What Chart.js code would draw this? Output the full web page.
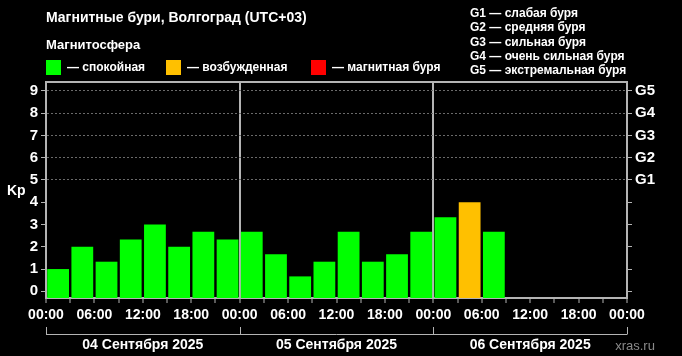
<!DOCTYPE html>
<html><head><meta charset="utf-8">
<script src="https://cdn.jsdelivr.net/npm/chart.js@4.4.1/dist/chart.umd.min.js"></script>
<style>html,body{margin:0;padding:0;background:#000;}canvas{display:block;}</style>
</head><body>
<canvas id="c" width="682" height="356"></canvas>
<script>
// ---- data ----
const dayLabels = ['04 Сентября 2025', '05 Сентября 2025', '06 Сентября 2025'];
const hourLabels = ['00:00', '06:00', '12:00', '18:00'];
const kpValues = [1, 2, 1.33, 2.33, 3, 2, 2.67, 2.33,
                  2.67, 1.67, 0.67, 1.33, 2.67, 1.33, 1.67, 2.67,
                  3.33, 4, 2.67];
const kpTicks = [0, 1, 2, 3, 4, 5, 6, 7, 8, 9];
const gLabels = ['G1', 'G2', 'G3', 'G4', 'G5'];
const gLegend = ['G1 — слабая буря', 'G2 — средняя буря', 'G3 — сильная буря', 'G4 — очень сильная буря', 'G5 — экстремальная буря'];
const stateLegend = ['— спокойная', '— возбужденная', '— магнитная буря'];
const stateColors = ['#00ff00', '#ffc000', '#ff0000'];
const title = 'Магнитные бури, Волгоград (UTC+03)';
const subtitle = 'Магнитосфера';

const FONT = '"Liberation Sans", Arial, sans-serif';
const FRAME = '#b4b4b4';
const Y_MIN = -0.3, Y_MAX = 9.4;

const points = kpValues.map((v, i) => ({x: i + 0.5, y: v}));
function colorFor(v) { return v >= 5 ? stateColors[2] : (v >= 4 ? stateColors[1] : stateColors[0]); }

const decor = {
  id: 'decor',
  afterDraw(chart) {
    const ctx = chart.ctx;
    const xs = chart.scales.x;
    const ys = chart.scales.y;
    ctx.save();
    ctx.fillStyle = '#fff';
    ctx.textBaseline = 'middle';
    ctx.textAlign = 'left';
    ctx.font = 'bold 14px ' + FONT;
    ctx.fillText(title, 46, 18);
    ctx.font = 'bold 13px ' + FONT;
    ctx.fillText(subtitle, 46, 45);
    ctx.font = 'bold 12px ' + FONT;
    const legX = [46, 166, 311];
    for (let i = 0; i < 3; i++) {
      ctx.fillStyle = stateColors[i];
      ctx.fillRect(legX[i], 60, 15, 15);
      ctx.fillStyle = '#fff';
      ctx.fillText(stateLegend[i], legX[i] + 21, 68);
    }
    for (let i = 0; i < gLegend.length; i++) {
      ctx.fillText(gLegend[i], 470, 13.5 + i * 14.4);
    }
    // Kp axis title
    ctx.font = 'bold 14px ' + FONT;
    ctx.fillText('Kp', 7, (ys.getPixelForValue(4) + ys.getPixelForValue(5)) / 2);
    // day brackets
    ctx.strokeStyle = FRAME;
    ctx.lineWidth = 1;
    const by = 334.5;
    ctx.beginPath();
    ctx.moveTo(xs.getPixelForValue(0), by);
    ctx.lineTo(xs.getPixelForValue(24), by);
    for (let d = 0; d <= 3; d++) {
      const px = Math.round(xs.getPixelForValue(d * 8)) + 0.5;
      ctx.moveTo(px, 327);
      ctx.lineTo(px, by);
    }
    ctx.stroke();
    ctx.fillStyle = '#fff';
    ctx.textAlign = 'center';
    ctx.font = 'bold 14px ' + FONT;
    for (let d = 0; d < 3; d++) {
      ctx.fillText(dayLabels[d], xs.getPixelForValue(d * 8 + 4), 345);
    }
    ctx.fillStyle = '#8a8a8a';
    ctx.font = '13px ' + FONT;
    ctx.fillText('xras.ru', 635, 346);
    ctx.restore();
  }
};

new Chart(document.getElementById('c'), {
  type: 'bar',
  data: {
    datasets: [{
      data: points,
      base: Y_MIN,
      backgroundColor: (c) => colorFor(c.raw ? c.raw.y : 0),
      borderWidth: 0,
      barPercentage: 0.9,
      categoryPercentage: 1.0,
      xAxisID: 'x',
      yAxisID: 'y'
    }]
  },
  plugins: [decor],
  options: {
    responsive: false,
    animation: false,
    devicePixelRatio: 1,
    layout: {padding: {top: 82, left: 0, right: 0, bottom: 0}},
    plugins: {legend: {display: false}, tooltip: {enabled: false}},
    scales: {
      x: {
        type: 'linear', position: 'bottom', min: 0, max: 24, offset: false,
        afterFit: (s) => { s.height = 58; },
        afterBuildTicks: (s) => { s.ticks = Array.from({length: 25}, (_, i) => ({value: i})); },
        ticks: {
          color: '#fff', font: {family: FONT, size: 14, weight: 'bold'}, padding: 4,
          maxRotation: 0, autoSkip: false,
          callback: (v) => (v % 2 === 0 ? hourLabels[(v / 2) % 4] : '')
        },
        grid: {
          offset: false,
          drawOnChartArea: true, drawTicks: true, tickLength: 5,
          color: (c) => (c.tick && c.tick.value % 8 === 0 ? FRAME : 'rgba(0,0,0,0)'),
          lineWidth: (c) => (c.tick && c.tick.value % 8 === 0 ? 2 : 0),
          tickColor: FRAME, tickWidth: 1
        },
        border: {display: true, color: FRAME, width: 2}
      },
      xTop: {
        type: 'linear', position: 'top', min: 0, max: 24, offset: false,
        afterFit: (s) => { s.height = 0; },
        ticks: {display: false},
        grid: {display: false},
        border: {display: true, color: FRAME, width: 2}
      },
      y: {
        type: 'linear', position: 'left', min: Y_MIN, max: Y_MAX,
        afterFit: (s) => { s.width = 46; },
        afterBuildTicks: (s) => { s.ticks = kpTicks.map(v => ({value: v})); },
        ticks: {color: '#fff', font: {family: FONT, size: 15, weight: 'bold'}, padding: 3,
                callback: (v) => String(v)},
        grid: {
          drawOnChartArea: true, tickLength: 5,
          color: (c) => (c.tick && c.tick.value >= 5 ? '#6a6a6a' : 'rgba(0,0,0,0)'),
          lineWidth: 1, tickColor: FRAME, tickWidth: 1
        },
        border: {display: true, color: FRAME, width: 2, dash: [2, 2]}
      },
      y2: {
        type: 'linear', position: 'right', min: Y_MIN, max: Y_MAX,
        afterFit: (s) => { s.width = 55; },
        afterBuildTicks: (s) => { s.ticks = kpTicks.map(v => ({value: v})); },
        ticks: {color: '#fff', font: {family: FONT, size: 15, weight: 'bold'}, padding: 3,
                callback: (v) => (v >= 5 ? gLabels[v - 5] : '')},
        grid: {drawOnChartArea: false, tickLength: 5, tickColor: FRAME, tickWidth: 1},
        border: {display: true, color: FRAME, width: 2}
      }
    }
  }
});
</script>
</body></html>
